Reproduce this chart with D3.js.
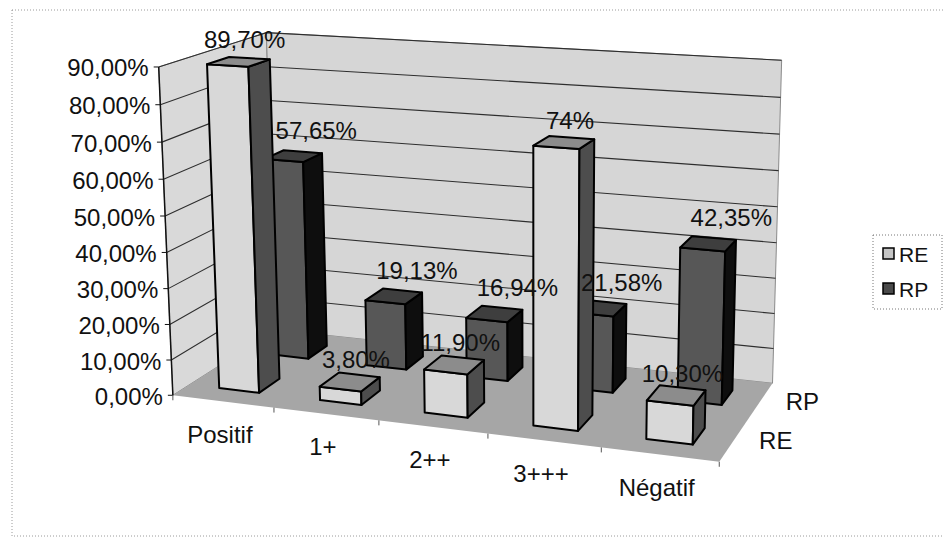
<!DOCTYPE html>
<html>
<head>
<meta charset="utf-8">
<script src="https://cdn.jsdelivr.net/npm/d3@7"></script>
<style>
  html, body { margin: 0; padding: 0; background: #fff; }
  svg { display: block; font-family: "Liberation Sans", Arial, sans-serif; }
</style>
</head>
<body>
<svg id="chart" width="943" height="538"></svg>
<script>
// ---- data ----
const categories = ["Positif", "1+", "2++", "3+++", "Négatif"];
const seriesNames = ["RE", "RP"];
const valuesRE = [0.897, 0.038, 0.119, 0.74, 0.103];
const valuesRP = [0.5765, 0.1913, 0.1694, 0.2158, 0.4235];
const labelsRE = ["89,70%", "3,80%", "11,90%", "74%", "10,30%"];
const labelsRP = ["57,65%", "19,13%", "16,94%", "21,58%", "42,35%"];
const yTickValues = [0, 0.1, 0.2, 0.3, 0.4, 0.5, 0.6, 0.7, 0.8, 0.9];

// ---- world scales: x across categories, y up (value), z back (series) ----
const x = d3.scaleBand().domain(categories).range([0, 5]).paddingInner(0.6).paddingOuter(0.3);
const z = d3.scaleBand().domain(seriesNames).range([0, 2]).paddingInner(0.6).paddingOuter(0.3);
const y = d3.scaleLinear().domain([0, 0.9]).range([0, 9]);
const X0 = 0, X1 = 5, Z0 = 0, Z1 = 2, Y0 = y(0), Y1 = y(0.9);

// screen placement of the plot box corners; the perspective camera is solved from these
const boxAnchors = [
  [[X0, Y0, Z0], [173, 395]],
  [[X0, Y1, Z0], [158, 68]],
  [[X0, Y1, Z1], [267, 32]],
  [[X1, Y1, Z1], [782, 61]],
  [[X1, Y0, Z1], [772, 385]],
  [[X1, Y0, Z0], [720, 461]],
  [[X0, y(0.5), Z0], [165, 216]],
  [[X1, y(0.5), Z1], [777, 205]]
];

// least-squares 3x4 projection (DLT) from the anchors
function solveCamera(pairs) {
  const S = 300, CX = 470, CY = 250, n = 11;
  const rows = [], rhs = [];
  pairs.forEach(([[X, Y, Z], [u, v]]) => {
    const un = (u - CX) / S, vn = (v - CY) / S;
    rows.push([X, Y, Z, 1, 0, 0, 0, 0, -un * X, -un * Y, -un * Z]); rhs.push(un);
    rows.push([0, 0, 0, 0, X, Y, Z, 1, -vn * X, -vn * Y, -vn * Z]); rhs.push(vn);
  });
  const M = Array.from({ length: n }, () => new Array(n + 1).fill(0));
  rows.forEach((r, k) => {
    for (let i = 0; i < n; i++) {
      for (let j = 0; j < n; j++) M[i][j] += r[i] * r[j];
      M[i][n] += r[i] * rhs[k];
    }
  });
  for (let c = 0; c < n; c++) {
    let p = c;
    for (let r = c + 1; r < n; r++) if (Math.abs(M[r][c]) > Math.abs(M[p][c])) p = r;
    [M[c], M[p]] = [M[p], M[c]];
    for (let r = 0; r < n; r++) {
      if (r === c) continue;
      const f = M[r][c] / M[c][c];
      for (let k = c; k <= n; k++) M[r][k] -= f * M[c][k];
    }
  }
  const m = M.map((r, i) => r[n] / r[i]);
  return (X, Y, Z) => {
    const w = m[8] * X + m[9] * Y + m[10] * Z + 1;
    return [
      (m[0] * X + m[1] * Y + m[2] * Z + m[3]) / w * S + CX,
      (m[4] * X + m[5] * Y + m[6] * Z + m[7]) / w * S + CY
    ];
  };
}
const proj = solveCamera(boxAnchors);
const poly = pts => pts.map(p => p.join(",")).join(" ");

const svg = d3.select("#chart");
const pctTick = d3.formatLocale({ decimal: ",", thousands: " ", grouping: [3], currency: ["", "€"] }).format(".2%");

// outer chart frame
svg.append("rect")
  .attr("x", 12).attr("y", 10).attr("width", 940).attr("height", 526)
  .attr("fill", "none").attr("stroke", "#9a9a9a").attr("stroke-width", 1)
  .attr("stroke-dasharray", "1,2");

// ---- walls and floor ----
const g = svg.append("g");
g.append("polygon")   // left wall
  .attr("points", poly([proj(X0, Y0, Z0), proj(X0, Y1, Z0), proj(X0, Y1, Z1), proj(X0, Y0, Z1)]))
  .attr("fill", "#d9d9d9").attr("stroke", "#8a8a8a").attr("stroke-width", 1);
g.append("polygon")   // back wall
  .attr("points", poly([proj(X0, Y0, Z1), proj(X0, Y1, Z1), proj(X1, Y1, Z1), proj(X1, Y0, Z1)]))
  .attr("fill", "#d6d6d6").attr("stroke", "#8a8a8a").attr("stroke-width", 1);
g.append("polygon")   // floor
  .attr("points", poly([proj(X0, Y0, Z0), proj(X1, Y0, Z0), proj(X1, Y0, Z1), proj(X0, Y0, Z1)]))
  .attr("fill", "#a6a6a6").attr("stroke", "none");

// gridlines on both walls
yTickValues.forEach(t => {
  const yy = y(t);
  if (t === 0) return;
  g.append("path")
    .attr("d", d3.line()([proj(X0, yy, Z0), proj(X0, yy, Z1), proj(X1, yy, Z1)]))
    .attr("fill", "none").attr("stroke", "#2e2e2e").attr("stroke-width", 1.1);
});

// value axis line, ticks and labels
g.append("line")
  .attr("x1", proj(X0, Y0, Z0)[0]).attr("y1", proj(X0, Y0, Z0)[1])
  .attr("x2", proj(X0, Y1, Z0)[0]).attr("y2", proj(X0, Y1, Z0)[1])
  .attr("stroke", "#111").attr("stroke-width", 1.5);
yTickValues.forEach(t => {
  const [px, py] = proj(X0, y(t), Z0);
  g.append("line").attr("x1", px - 5).attr("y1", py).attr("x2", px).attr("y2", py)
    .attr("stroke", "#111").attr("stroke-width", 1);
  g.append("text").attr("x", px - 10).attr("y", py + 1)
    .attr("text-anchor", "end").attr("dominant-baseline", "central")
    .attr("font-size", 24).attr("fill", "#111").text(pctTick(t));
});

// category ticks and labels along the front edge
d3.range(categories.length + 1).forEach(i => {
  const [px, py] = proj(i, Y0, Z0);
  g.append("line").attr("x1", px).attr("y1", py).attr("x2", px).attr("y2", py + 5)
    .attr("stroke", "#555").attr("stroke-width", 1);
});
categories.forEach(c => {
  const [px, py] = proj(x(c) + x.bandwidth() / 2, Y0, Z0);
  g.append("text").attr("x", px - 3).attr("y", py + 33)
    .attr("text-anchor", "middle").attr("dominant-baseline", "central")
    .attr("font-size", 24).attr("fill", "#111").text(c);
});

// series labels along the right floor edge
seriesNames.forEach(s => {
  const [px, py] = proj(X1, Y0, z(s) + z.bandwidth() / 2);
  g.append("text").attr("x", px + 42).attr("y", py)
    .attr("text-anchor", "middle").attr("dominant-baseline", "central")
    .attr("font-size", 24).attr("fill", "#111").text(s);
});

// ---- bars ----
const seriesStyle = {
  RE: { front: "#d8d8d8", top: "#8c8c8c", side: "#4d4d4d", shift: [6, -22] },
  RP: { front: "#575757", top: "#3e3e3e", side: "#0e0e0e", shift: [23, -26] }
};
const rows = [
  { s: "RP", values: valuesRP, labels: labelsRP },
  { s: "RE", values: valuesRE, labels: labelsRE }
];
const barG = svg.append("g");
const labelG = svg.append("g");
rows.forEach(row => {
  const st = seriesStyle[row.s];
  const z0 = z(row.s), z1 = z0 + z.bandwidth();
  categories.forEach((c, i) => {
    const x0 = x(c), x1 = x0 + x.bandwidth(), h = y(row.values[i]);
    const faces = [
      { pts: [proj(x0, 0, z0), proj(x1, 0, z0), proj(x1, h, z0), proj(x0, h, z0)], fill: st.front },
      { pts: [proj(x1, 0, z0), proj(x1, 0, z1), proj(x1, h, z1), proj(x1, h, z0)], fill: st.side },
      { pts: [proj(x0, h, z0), proj(x1, h, z0), proj(x1, h, z1), proj(x0, h, z1)], fill: st.top }
    ];
    faces.forEach(f => {
      barG.append("polygon").attr("points", poly(f.pts))
        .attr("fill", f.fill).attr("stroke", "#000").attr("stroke-width", 2)
        .attr("stroke-linejoin", "round");
    });
    const [lx, ly] = proj((x0 + x1) / 2, h, (z0 + z1) / 2);
    labelG.append("text").attr("x", lx + st.shift[0]).attr("y", ly + st.shift[1])
      .attr("text-anchor", "middle").attr("dominant-baseline", "central")
      .attr("font-size", 24).attr("fill", "#111").text(row.labels[i]);
  });
});

// ---- legend ----
const leg = svg.append("g");
leg.append("rect").attr("x", 873).attr("y", 235).attr("width", 69).attr("height", 74)
  .attr("fill", "#fff").attr("stroke", "#777").attr("stroke-width", 1).attr("stroke-dasharray", "1,2");
seriesNames.forEach((s, i) => {
  const cy = 254 + i * 35;
  leg.append("rect").attr("x", 883).attr("y", cy - 6).attr("width", 11).attr("height", 11)
    .attr("fill", i === 0 ? "#c4c4c4" : "#4a4a4a").attr("stroke", "#000").attr("stroke-width", 1.5);
  leg.append("text").attr("x", 899).attr("y", cy)
    .attr("dominant-baseline", "central").attr("font-size", 21).attr("fill", "#111").text(s);
});
</script>
</body>
</html>
